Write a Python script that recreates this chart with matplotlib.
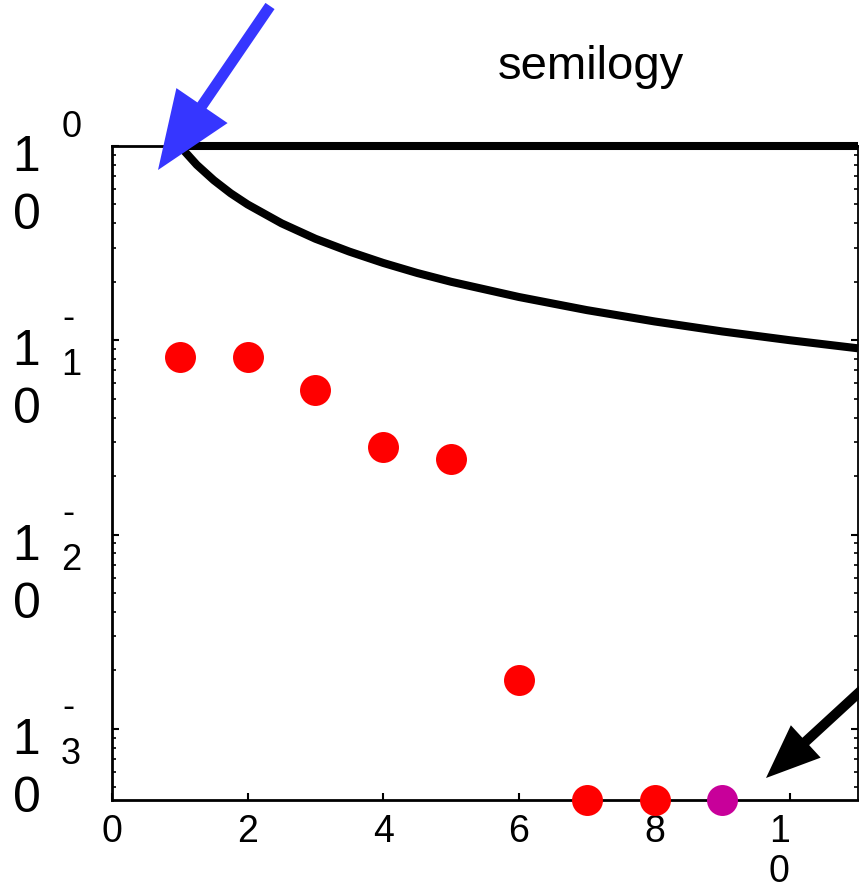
import numpy as np
import matplotlib
matplotlib.use("Agg")
import matplotlib.pyplot as plt
from matplotlib.patches import FancyArrow
from matplotlib.transforms import IdentityTransform

plt.rcParams['font.family'] = ['Liberation Sans', 'DejaVu Sans']

# --- data -------------------------------------------------------------
# flat reference line at 1
bound_x = [1, 11]
bound_y = [1.0, 1.0]

# decaying reference curve
curve_x = [1, 1.25, 1.5, 1.75, 2, 2.5, 3, 3.5, 4, 4.5, 5, 6, 7, 8, 9, 10, 11]
curve_y = [1.0, 0.8, 0.667, 0.571, 0.5, 0.4, 0.333, 0.286, 0.25, 0.222,
           0.2, 0.167, 0.143, 0.125, 0.111, 0.1, 0.0909]

# measured points
pts_x = [1, 2, 3, 4, 5, 6, 7, 8]
pts_y = [0.0817, 0.0817, 0.0552, 0.0281, 0.0246, 0.00179, 0.00043, 0.00043]

# highlighted last point
last_x = [9]
last_y = [0.00043]

x_ticks = [0, 2, 4, 6, 8, 10]
y_exponents = [0, -1, -2, -3]

# --- figure -----------------------------------------------------------
W, H = 859, 891
fig = plt.figure(figsize=(W / 100, H / 100), dpi=100, facecolor='white')
ax = fig.add_axes([112 / W, (H - 800) / H, (858 - 112) / W, (800 - 146) / H])

ax.set_yscale('log')
ax.set_xlim(0, 11)
ax.set_ylim(min(pts_y + last_y), 1.0)

ax.plot(bound_x, bound_y, color='black', lw=5.8, solid_capstyle='butt',
        clip_on=False, zorder=3)
ax.plot(curve_x, curve_y, color='black', lw=5.8, solid_capstyle='butt',
        clip_on=False, zorder=3)
ax.plot(pts_x, pts_y, 'o', color='#ff0000', ms=22.3, mew=0,
        clip_on=False, zorder=4)
ax.plot(last_x, last_y, 'o', color='#c8009a', ms=22.3, mew=0,
        clip_on=False, zorder=4)

for side in ['left', 'bottom', 'top']:
    ax.spines[side].set_linewidth(2.0)
ax.spines['right'].set_linewidth(1.3)

ax.set_xticks(x_ticks)
ax.xaxis.set_minor_locator(matplotlib.ticker.NullLocator())
ax.tick_params(which='both', direction='in', top=False, right=True,
               labelbottom=False, labelleft=False)
ax.tick_params(which='major', length=5, width=1.5)
ax.tick_params(which='minor', length=2.6, width=1.2)

XT = 27   # x tick label size
YB = 36   # mantissa size
YS = 26   # exponent size

# x tick labels (wrapped "10")
for v in x_ticks:
    if v < 10:
        ax.annotate(str(v), xy=(v, 0), xycoords=('data', 'axes fraction'),
                    xytext=(0, -42), textcoords='offset pixels',
                    ha='center', va='baseline', fontsize=XT,
                    annotation_clip=False)
    else:
        s = str(v)
        ax.annotate(s[0], xy=(v, 0), xycoords=('data', 'axes fraction'),
                    xytext=(-11, -42), textcoords='offset pixels',
                    ha='center', va='baseline', fontsize=XT,
                    annotation_clip=False)
        ax.annotate(s[1], xy=(v, 0), xycoords=('data', 'axes fraction'),
                    xytext=(-11, -82), textcoords='offset pixels',
                    ha='center', va='baseline', fontsize=XT,
                    annotation_clip=False)

# y tick labels: wrapped "10" with wrapped exponent
def ylab(text, e, dx, dy, size):
    ax.annotate(text, xy=(0, 10.0 ** e), xycoords=('axes fraction', 'data'),
                xytext=(dx, dy), textcoords='offset pixels',
                ha='center', va='baseline', fontsize=size,
                annotation_clip=False)

for e in y_exponents:
    ylab('1', e, 26 - 112, -25, YB)
    ylab('0', e, 27 - 112, -83, YB)
    if e == 0:
        ylab('0', e, 72 - 112, 9, YS)
    else:
        ylab('-', e, 68 - 112, 12, YS)
        ylab(str(-e), e, 71 - 112, -35, YS)

fig.text(591 / W, 1 - 79 / H, 'semilogy', ha='center', va='baseline',
         fontsize=34)

# pointer arrows (pixel coordinates, origin bottom-left)
def arrow(tail, tip, width, head_w, head_l, color):
    tx, ty = tail[0], H - tail[1]
    hx, hy = tip[0], H - tip[1]
    fig.add_artist(FancyArrow(tx, ty, hx - tx, hy - ty, width=width,
                              head_width=head_w, head_length=head_l,
                              length_includes_head=True, color=color,
                              lw=0, transform=IdentityTransform()))

arrow((270, 6), (158, 170), 11, 62, 78, '#3636ff')
arrow((890, 664), (766, 778), 10, 44, 54, 'black')

fig.savefig('out.png', dpi=100, facecolor='white')
